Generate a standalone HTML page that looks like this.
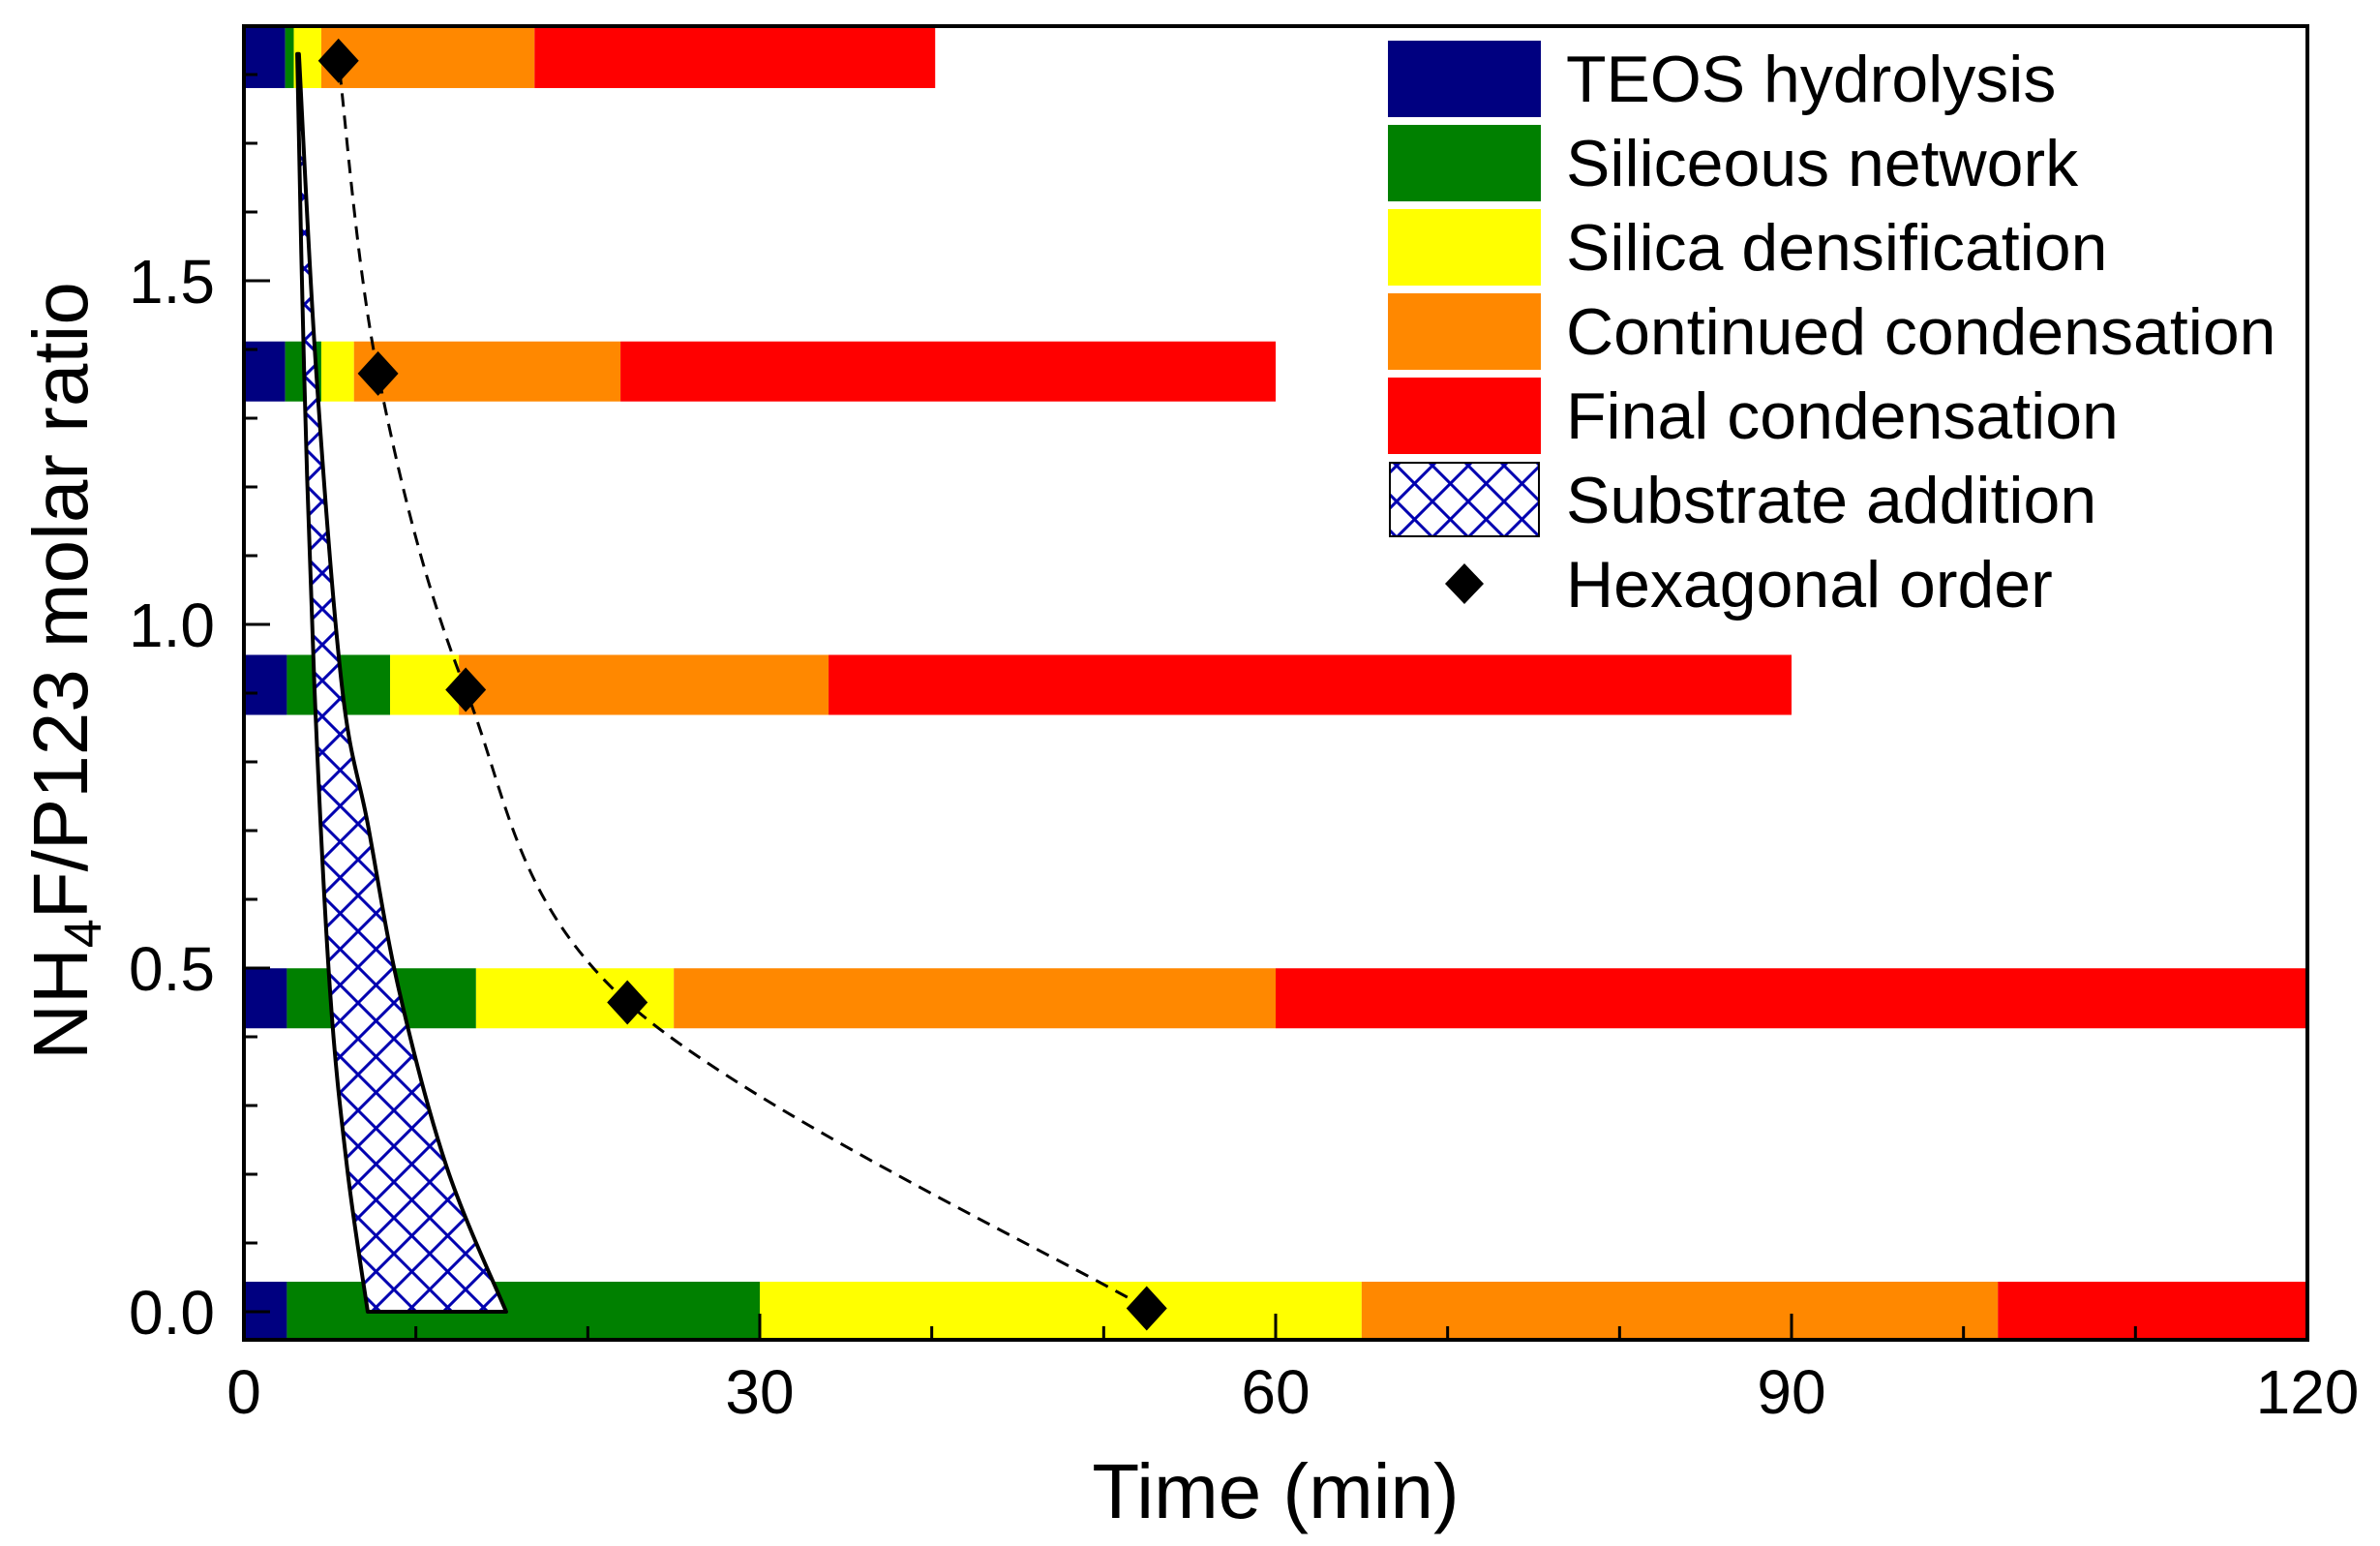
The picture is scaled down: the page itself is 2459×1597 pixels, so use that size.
<!DOCTYPE html>
<html><head><meta charset="utf-8"><style>
html,body{margin:0;padding:0;background:#fff;}
svg{display:block;font-family:"Liberation Sans",Arial,sans-serif;}
</style></head><body>
<svg id="chart" width="2459" height="1597" viewBox="0 0 2459 1597" xmlns="http://www.w3.org/2000/svg">
<defs>
<pattern id="hatch" patternUnits="userSpaceOnUse" width="37" height="37">
<rect width="37" height="37" fill="#fff"/>
<path d="M0,0 L37,37 M37,0 L0,37" stroke="#0000b0" stroke-width="3"/>
</pattern>
</defs>
<g id="bars"></g>
<g id="overlay"></g>
<g id="axes"></g>
<g id="legend"></g>
</svg>
<script>
// ---- data ----
const ratios = [0, 0.456, 0.912, 1.368, 1.824];
const teosEnd   = [2.5, 2.5, 2.5, 2.4, 2.4];
const networkEnd= [30, 13.5, 8.5, 4.5, 2.9];
const densEnd   = [65, 25, 12.5, 6.4, 4.5];
const contEnd   = [102, 60, 34, 21.9, 16.9];
const finalEnd  = [120, 120, 90, 60, 40.2];
const hexTime   = [52.5, 22.3, 12.9, 7.8, 5.5];
const hexRatio  = [0.005, 0.45, 0.905, 1.365, 1.82];
const subLeftT  = [7.2, 6.0, 5.0, 4.1, 3.5, 3.1];
const subLeftR  = [0, 0.21, 0.47, 0.91, 1.37, 1.83];
const subRightT = [15.25, 11.8, 9.0, 7.2, 5.7, 4.2, 3.2];
const subRightR = [0, 0.21, 0.47, 0.71, 0.91, 1.37, 1.83];
const xTicks = [0, 30, 60, 90, 120];
const yTicks = [0, 0.5, 1.0, 1.5];
const yTickLabels = ["0.0", "0.5", "1.0", "1.5"];
const stageNames = ["TEOS hydrolysis","Siliceous network","Silica densification","Continued condensation","Final condensation"];
const stageColors = ["#000080","#008000","#ffff00","#ff8800","#ff0000"];

// ---- axes functions ----
const X0=252, X1=2384, Y0=1355, YTOP=27, YBOT=1384;
const x = t => X0 + (t/120)*(X1-X0);
const y = r => Y0 - r*710;
const NS="http://www.w3.org/2000/svg";
function mk(tag, attrs, parent){const e=document.createElementNS(NS,tag);for(const k in attrs)e.setAttribute(k,attrs[k]);parent.appendChild(e);return e;}
function spline(pts){
  let d='';
  for(let i=0;i<pts.length-1;i++){
    const p0=pts[Math.max(0,i-1)],p1=pts[i],p2=pts[i+1],p3=pts[Math.min(pts.length-1,i+2)];
    const c1=[p1[0]+(p2[0]-p0[0])/6,p1[1]+(p2[1]-p0[1])/6];
    const c2=[p2[0]-(p3[0]-p1[0])/6,p2[1]-(p3[1]-p1[1])/6];
    d+=' C'+c1.join(',')+' '+c2.join(',')+' '+p2.join(',');
  }
  return d;
}

const bars=document.getElementById('bars');
const ends=[teosEnd,networkEnd,densEnd,contEnd,finalEnd];
const BH=62;
ratios.forEach((r,i)=>{
  let start=0;
  ends.forEach((arr,s)=>{
    const rect=mk('rect',{x:x(start),y:y(r)-BH/2,width:x(arr[i])-x(start),height:BH,fill:stageColors[s]},bars);
    
    
    start=arr[i];
  });
});

const ov=document.getElementById('overlay');
const left=subLeftT.map((t,i)=>[x(t),y(subLeftR[i])]);
const right=subRightT.map((t,i)=>[x(t),y(subRightR[i])]).reverse();
let pd='M'+left[0].join(',')+spline(left)+' L'+right[0].join(',')+spline(right)+' Z';
const poly=mk('path',{d:pd,fill:'url(#hatch)',stroke:'#000','stroke-width':4,'stroke-linejoin':'round'},ov);



const hp=hexTime.map((t,i)=>[x(t),y(hexRatio[i])]);
const curve=mk('path',{d:'M'+hp[0].join(',')+spline(hp),fill:'none',stroke:'#000','stroke-width':3,'stroke-dasharray':'14,9'},ov);


hp.forEach((p,i)=>{
  const dm=mk('polygon',{points:`${p[0]},${p[1]-23} ${p[0]+21},${p[1]} ${p[0]},${p[1]+23} ${p[0]-21},${p[1]}`,fill:'#000'},ov);
  
  
});

const ax=document.getElementById('axes');
const frame=mk('rect',{x:X0,y:YTOP,width:X1-X0,height:YBOT-YTOP,fill:'none',stroke:'#000','stroke-width':4},ax);


for(let t=0;t<=120;t+=10){
  const major=t%30===0;
  const tk=mk('line',{x1:x(t),x2:x(t),y1:YBOT,y2:YBOT-(major?27:14),stroke:'#000','stroke-width':3},ax);
  
  
}
xTicks.forEach(t=>{
  const tx=mk('text',{x:x(t),y:1460,'font-size':64,'text-anchor':'middle'},ax);
  tx.textContent=t;
  
  
});
for(let k=0;k<=18;k++){
  const r=k/10;
  const major=k%5===0;
  const tk=mk('line',{x1:X0,x2:X0+(major?27:14),y1:y(r),y2:y(r),stroke:'#000','stroke-width':3},ax);
  
  
}
yTicks.forEach((r,i)=>{
  const tx=mk('text',{x:222,y:y(r)+23,'font-size':64,'text-anchor':'end'},ax);
  tx.textContent=yTickLabels[i];
  
  
});

const xt=mk('text',{x:1318,y:1568,'font-size':80,'text-anchor':'middle'},ax);
xt.textContent='Time (min)';


const yt=mk('text',{transform:'translate(90,693) rotate(-90)','font-size':80,'text-anchor':'middle'},ax);
yt.innerHTML='NH<tspan font-size="54" dy="14">4</tspan><tspan dy="-14">F/P123 molar ratio</tspan>';



const lg=document.getElementById('legend');
const labels=stageNames.concat(["Substrate addition","Hexagonal order"]);
labels.forEach((lab,i)=>{
  const cy=81+i*87;
  if(i<5){
    const r=mk('rect',{x:1434,y:cy-39,width:158,height:79,fill:stageColors[i]},lg);
    
    
  }else if(i===5){
    const r=mk('rect',{x:1436,y:cy-38,width:154,height:76,fill:'url(#hatch)',stroke:'#000','stroke-width':2},lg);
    
    
  }else{
    const p=mk('polygon',{points:`1513,${cy-21} 1533,${cy} 1513,${cy+21} 1493,${cy}`},lg);
    
    
  }
  const t=mk('text',{x:1618,y:cy+24,'font-size':68},lg);
  t.textContent=lab;
  
  
});
</script>
</body></html>
